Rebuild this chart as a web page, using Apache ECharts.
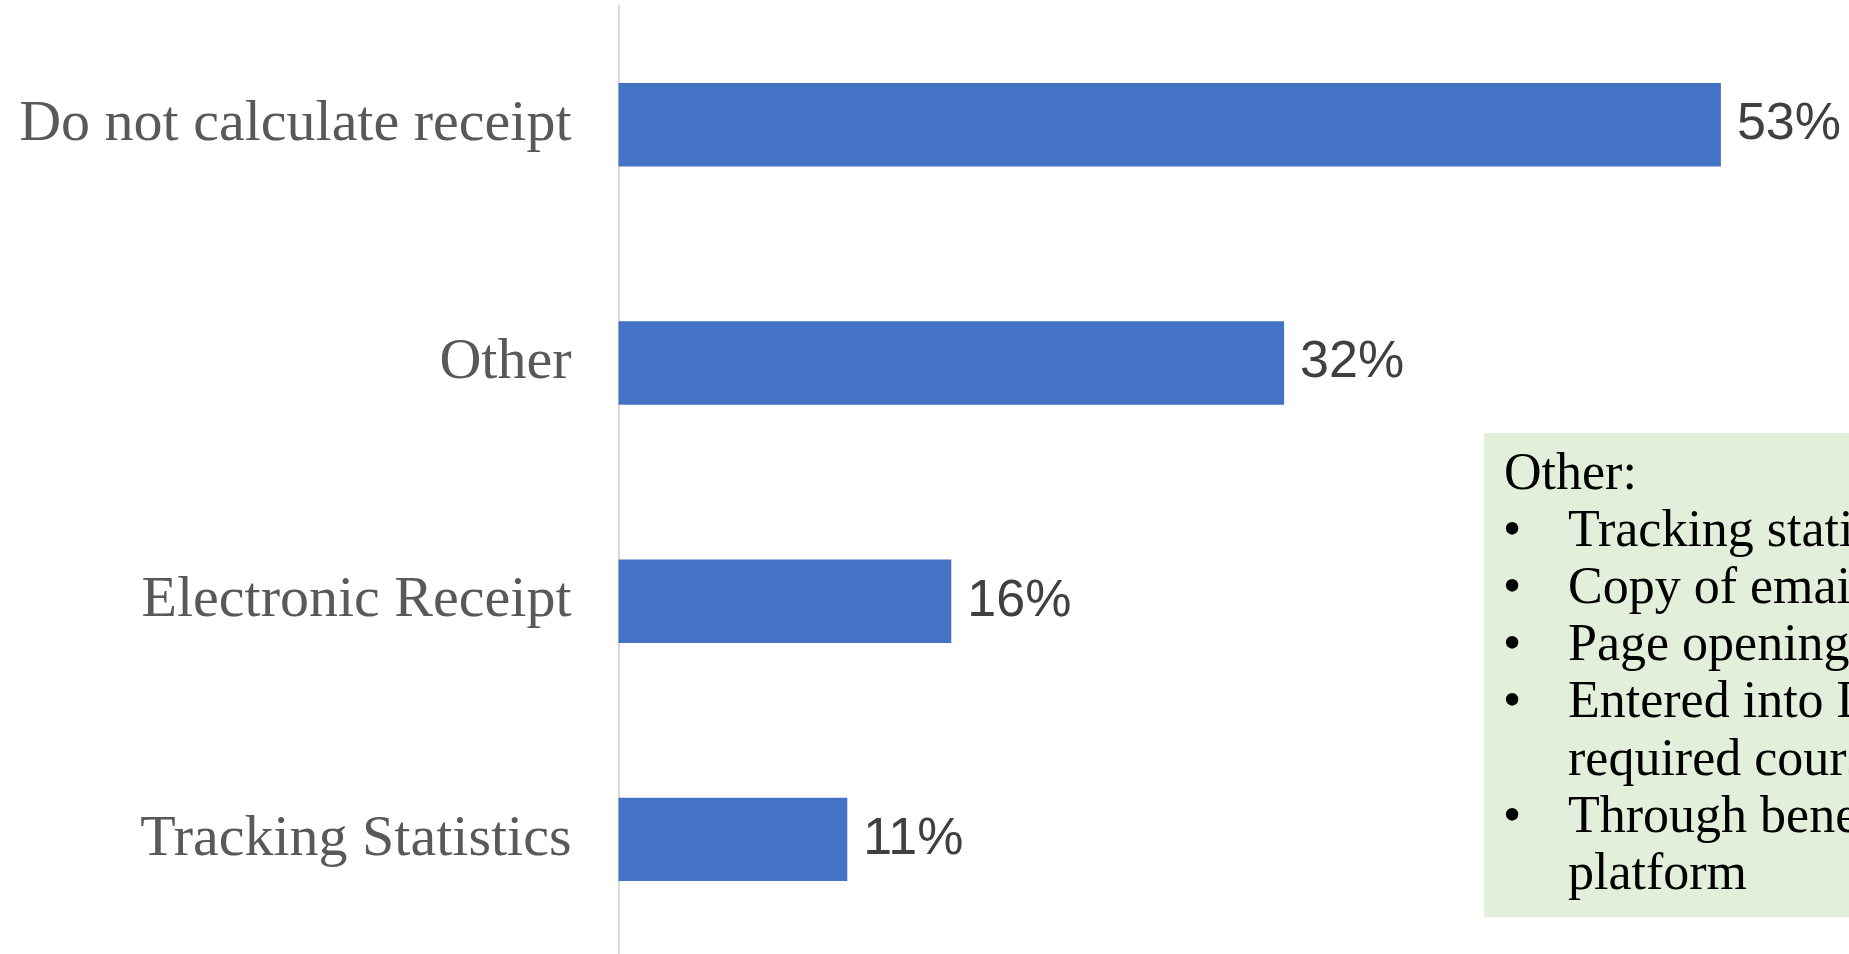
<!DOCTYPE html>
<html>
<head>
<meta charset="utf-8">
<script src="https://cdn.jsdelivr.net/npm/echarts@6/dist/echarts.min.js"></script>
<style>
html,body{margin:0;padding:0;background:#fff;}
#chart{width:1849px;height:954px;}
</style>
</head>
<body>
<div id="chart"></div>
<script>
// ---- data ----
var categories = ['Do not calculate receipt', 'Other', 'Electronic Receipt', 'Tracking Statistics'];
var values = [53, 32, 16, 11];
var noteTitle = 'Other:';
var noteItems = [
  ['Tracking statistics'],
  ['Copy of email receipt'],
  ['Page opening confirmation'],
  ['Entered into LMS as a', 'required course'],
  ['Through benefits', 'platform']
];

// ---- layout ----
var serif = '"Liberation Serif", "DejaVu Serif", serif';
var noteX = 1484, noteY = 433, noteW = 420, noteH = 484;
var lineH = 57.2, firstLineY = 475;
var noteFont = 52;

var graphics = [{
  type: 'rect', left: noteX, top: noteY, silent: true,
  shape: {width: noteW, height: noteH},
  style: {fill: '#E2EFDA'}
}];
var lineIdx = 0;
function addText(x, text, idx) {
  graphics.push({
    type: 'text', x: x, y: firstLineY + idx * lineH, silent: true,
    style: {text: text, fill: '#000000', font: noteFont + 'px ' + serif, verticalAlign: 'middle', align: 'left'}
  });
}
addText(1504, noteTitle, lineIdx++);
noteItems.forEach(function (item) {
  addText(1503, '•', lineIdx);
  item.forEach(function (ln) { addText(1568, ln, lineIdx++); });
});

var chart = echarts.init(document.getElementById('chart'), null, {renderer: 'canvas'});
chart.setOption({
  animation: false,
  backgroundColor: '#ffffff',
  grid: {left: 618.5, top: 5.7, width: 1248, height: 952.8, containLabel: false, outerBoundsMode: 'none'},
  xAxis: {
    type: 'value', min: 0, max: 60, show: false,
    splitLine: {show: false}
  },
  yAxis: {
    type: 'category', data: categories, inverse: true,
    axisLine: {show: true, lineStyle: {color: '#D9D9D9', width: 2}},
    axisTick: {show: false},
    axisLabel: {color: '#595959', fontFamily: serif, fontSize: 58, margin: 47, padding: [6, 0, 0, 0]}
  },
  series: [{
    type: 'bar', data: values, barCategoryGap: '65%',
    itemStyle: {color: '#4472C4'},
    label: {
      show: true, position: 'right', distance: 16,
      formatter: '{c}%', color: '#404040',
      fontFamily: '"Liberation Sans", Arial, sans-serif', fontSize: 52
    }
  }],
  graphic: graphics
});
</script>
</body>
</html>
